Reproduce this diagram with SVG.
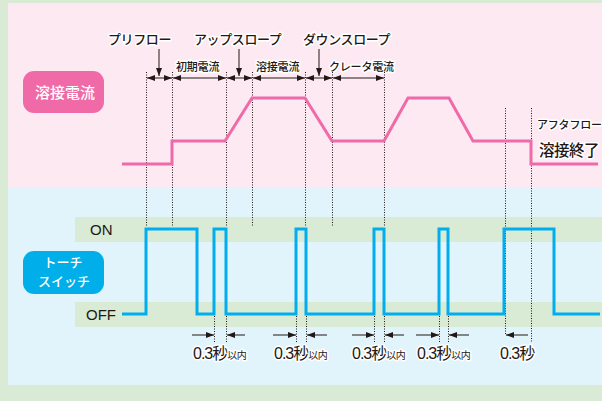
<svg xmlns="http://www.w3.org/2000/svg" width="602" height="401" viewBox="0 0 602 401">
<defs>
<style>
.jp{font-family:"Noto Sans CJK JP","Noto Sans",sans-serif;fill:#231815;font-weight:500}
.halo{stroke:#fff;stroke-width:3;stroke-linejoin:round;paint-order:stroke}
.lab{font-size:13px;letter-spacing:-0.4px}
.sm{font-size:11px;letter-spacing:-0.2px}
.wt{fill:#fff;font-family:"Noto Sans CJK JP","Noto Sans",sans-serif;font-weight:500}
.lat{font-family:"Liberation Sans","Noto Sans CJK JP",sans-serif;fill:#231815}
.dot{stroke:#231815;stroke-width:1;stroke-dasharray:1 1.5;fill:none}
.arr{stroke:#231815;stroke-width:1;fill:none;marker-end:url(#ah)}
.dim{stroke:#231815;stroke-width:1;fill:none;marker-end:url(#ah);marker-start:url(#ah)}
.num{font-family:"Liberation Sans","Noto Sans CJK JP",sans-serif;font-size:16px;letter-spacing:-1px;fill:#231815}
</style>
<marker id="ah" markerUnits="userSpaceOnUse" markerWidth="8" markerHeight="6" viewBox="0 0 8 6" refX="8" refY="3" orient="auto-start-reverse">
<path d="M0,0 L8,3 L0,6 z" fill="#231815"/>
</marker>
</defs>

<g id="background">
<rect x="0" y="0" width="602" height="401" fill="#d9ebd4"/>
<rect x="8" y="3" width="594" height="184" fill="#fde9f2"/>
<rect x="8" y="187" width="594" height="198" fill="#e1f3fb"/>
<rect x="75" y="217" width="527" height="25" fill="#d9ebd4"/>
<rect x="75" y="302" width="527" height="25" fill="#d9ebd4"/>
</g>

<g id="node-weld-current">
<rect x="23" y="71" width="81" height="42" rx="11" fill="#ef6aa6"/>
<text class="wt" x="65" y="98" font-size="15" text-anchor="middle">溶接電流</text>
</g>

<g id="node-torch-switch">
<rect x="23" y="251" width="81" height="43" rx="11" fill="#00aee9"/>
<text class="wt" x="63" y="266.5" font-size="13" text-anchor="middle">トーチ</text>
<text class="wt" x="64" y="285.5" font-size="13" text-anchor="middle">スイッチ</text>
</g>

<g id="node-on-off">
<text class="lat" x="90" y="235" font-size="15">ON</text>
<text class="lat" x="86" y="320" font-size="15">OFF</text>
</g>

<g id="node-phase-labels">
<text class="jp lab halo" x="108" y="44">プリフロー</text>
<text class="jp lab halo" x="194" y="44">アップスロープ</text>
<text class="jp lab halo" x="303" y="44">ダウンスロープ</text>
<text class="jp sm halo" x="176" y="70.5">初期電流</text>
<text class="jp sm halo" x="256" y="70.5">溶接電流</text>
<text class="jp sm halo" x="329" y="70.5">クレータ電流</text>
<text class="jp halo" x="537" y="128.5" font-size="11" letter-spacing="-0.2">アフタフロー</text>
<text class="jp halo" x="539" y="156" font-size="15.5" letter-spacing="-0.5">溶接終了</text>
</g>

<g id="node-time-labels">
<text class="num halo" x="193" y="359">0.3秒<tspan font-size="10" letter-spacing="-0.5">以内</tspan></text>
<text class="num halo" x="274" y="359">0.3秒<tspan font-size="10" letter-spacing="-0.5">以内</tspan></text>
<text class="num halo" x="352" y="359">0.3秒<tspan font-size="10" letter-spacing="-0.5">以内</tspan></text>
<text class="num halo" x="417" y="359">0.3秒<tspan font-size="10" letter-spacing="-0.5">以内</tspan></text>
<text class="num halo" x="500" y="359">0.3秒</text>
</g>

<g id="connectors">
<path class="dot" d="M146.5,72V226 M172.5,72V226 M226.5,72V226 M252.5,72V226 M305.5,72V226 M332.5,72V226 M384.5,72V226 M505.5,108V335 M531.5,108V342"/>
<path class="dot" d="M214.5,316V342 M226.5,316V342 M296.5,316V342 M306.5,316V342 M374.5,316V342 M384.5,316V342 M439.5,316V342 M448.5,316V342"/>
<line class="arr" x1="159" y1="49" x2="159" y2="76"/>
<line class="arr" x1="239" y1="49" x2="239" y2="76"/>
<line class="arr" x1="319" y1="49" x2="319" y2="76"/>
<line class="dim" x1="147" y1="78" x2="172" y2="78"/>
<line class="dim" x1="173" y1="78" x2="226" y2="78"/>
<line class="dim" x1="227" y1="78" x2="252" y2="78"/>
<line class="dim" x1="253" y1="78" x2="305" y2="78"/>
<line class="dim" x1="306" y1="78" x2="332" y2="78"/>
<line class="dim" x1="333" y1="78" x2="384" y2="78"/>
<line class="arr" x1="192" y1="335" x2="214" y2="335"/>
<line class="arr" x1="245" y1="335" x2="227" y2="335"/>
<line class="arr" x1="273" y1="335" x2="296" y2="335"/>
<line class="arr" x1="327" y1="335" x2="307" y2="335"/>
<line class="arr" x1="352" y1="335" x2="374" y2="335"/>
<line class="arr" x1="404" y1="335" x2="385" y2="335"/>
<line class="arr" x1="416" y1="335" x2="439" y2="335"/>
<line class="arr" x1="469" y1="335" x2="449" y2="335"/>
<line class="arr" x1="528" y1="335" x2="506" y2="335"/>
<polyline fill="none" stroke="#ee6aa9" stroke-width="3" points="122,164 172,164 172,141 225,141 252,98 305,98 332,141 384,141 408,98 449,98 473,141 531,141 531,164 598,164"/>
<polyline fill="none" stroke="#00aeef" stroke-width="3" points="122,314 146,314 146,229 197,229 197,314 214,314 214,229 226,229 226,314 296,314 296,229 306,229 306,314 374,314 374,229 384,229 384,314 439,314 439,229 448,229 448,314 504,314 504,229 554,229 554,314 600,314"/>
</g>
</svg>
